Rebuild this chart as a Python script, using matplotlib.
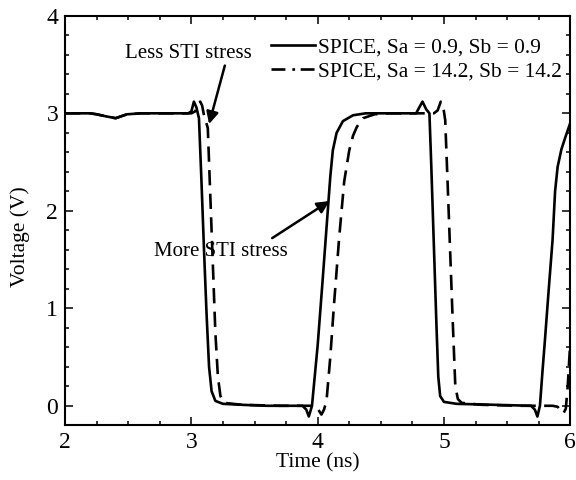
import matplotlib
matplotlib.use("Agg")
import matplotlib.pyplot as plt
from matplotlib.lines import Line2D
from matplotlib.ticker import MultipleLocator

plt.rcParams["font.family"] = ["Liberation Serif", "DejaVu Serif"]
plt.rcParams["lines.scale_dashes"] = False

# SPICE, Sa = 0.9, Sb = 0.9 (less STI stress)
t_low = [2.00, 2.20, 2.25, 2.32, 2.40, 2.49, 2.60, 2.70, 2.975, 3.00, 3.02, 3.04,
         3.06, 3.08, 3.10, 3.12, 3.14, 3.16, 3.19, 3.25, 3.40, 3.60, 3.88, 3.91,
         3.93, 3.955, 4.00, 4.04, 4.08, 4.10, 4.12, 4.15, 4.20, 4.28, 4.38, 4.60,
         4.78, 4.80, 4.83, 4.86, 4.885, 4.90, 4.92, 4.94, 4.955, 4.97, 5.00, 5.10,
         5.40, 5.69, 5.72, 5.74, 5.76, 5.78, 5.80, 5.83, 5.86, 5.88, 5.90, 5.93,
         5.96, 6.00]
v_low = [3.00, 3.00, 2.99, 2.97, 2.95, 2.99, 3.00, 3.00, 3.00, 3.02, 3.12, 3.06,
         2.95, 2.30, 1.60, 0.95, 0.40, 0.15, 0.05, 0.02, 0.01, 0.00, 0.00, -0.04,
         -0.11, 0.00, 0.62, 1.30, 2.00, 2.35, 2.62, 2.80, 2.92, 2.98, 3.00, 3.00,
         3.00, 3.05, 3.12, 3.04, 3.00, 2.45, 1.65, 0.85, 0.30, 0.10, 0.04, 0.02,
         0.01, 0.00, -0.04, -0.11, 0.00, 0.35, 0.68, 1.20, 1.70, 2.20, 2.45, 2.63,
         2.75, 2.90]

# SPICE, Sa = 14.2, Sb = 14.2 (more STI stress)
t_high = [2.00, 2.20, 2.25, 2.32, 2.40, 2.49, 2.60, 2.70, 3.00, 3.03, 3.055, 3.07,
          3.085, 3.10, 3.13, 3.16, 3.19, 3.21, 3.23, 3.26, 3.40, 3.70, 3.95, 3.98,
          4.01, 4.03, 4.05, 4.07, 4.10, 4.13, 4.17, 4.21, 4.25, 4.28, 4.31, 4.36,
          4.45, 4.55, 4.92, 4.95, 4.975, 4.995, 5.01, 5.03, 5.05, 5.07, 5.09, 5.11,
          5.14, 5.30, 5.60, 5.86, 5.90, 5.92, 5.945, 5.965, 5.98, 6.00]
v_high = [3.00, 3.00, 2.99, 2.97, 2.95, 2.99, 3.00, 3.00, 3.00, 3.02, 3.10, 3.12,
          3.08, 2.98, 2.85, 1.80, 0.75, 0.30, 0.10, 0.03, 0.01, 0.00, 0.00, 0.00,
          -0.05, -0.09, -0.04, 0.05, 0.50, 1.05, 1.72, 2.30, 2.62, 2.77, 2.86, 2.95,
          2.99, 3.00, 3.00, 3.03, 3.12, 3.06, 2.93, 2.25, 1.55, 0.85, 0.20, 0.07,
          0.03, 0.01, 0.00, 0.00, -0.01, -0.04, -0.08, -0.03, 0.20, 0.65]

labels = ["SPICE, Sa = 0.9, Sb = 0.9", "SPICE, Sa = 14.2, Sb = 14.2"]

fig = plt.figure(figsize=(5.76, 4.8), dpi=100)
ax = fig.add_axes([0.113, 0.114, 0.877, 0.853])

ax.plot(t_low, v_low, color="black", lw=1.9)
ax.plot(t_high, v_high, color="black", lw=1.9, dashes=(11, 6))

ax.set_xlim(2, 6)
ax.set_ylim(-0.2, 4)
ax.set_xticks([2, 3, 4, 5, 6])
ax.set_yticks([0, 1, 2, 3, 4])
ax.xaxis.set_minor_locator(MultipleLocator(0.25))
ax.yaxis.set_minor_locator(MultipleLocator(0.2))
ax.tick_params(which="both", direction="in", top=True, right=True, width=1.1)
ax.tick_params(which="major", length=5.5, labelsize=17, pad=5)
ax.tick_params(which="minor", length=3)
for s in ax.spines.values():
    s.set_linewidth(1.5)

ax.set_xlabel("Time (ns)", fontsize=15.5, labelpad=0)
ax.set_ylabel("Voltage (V)", fontsize=15.5)
ax.yaxis.set_label_coords(-0.07, 0.46)

# legend shows the dash-dot pattern of the second curve
handles = [Line2D([], [], color="black", lw=1.9),
           Line2D([], [], color="black", lw=1.9, dashes=(10, 5, 2, 4))]
ax.legend(handles, labels, loc="upper left", bbox_to_anchor=(0.407, 0.946),
          frameon=False, fontsize=15.4, handlelength=2.05, handletextpad=0.15,
          labelspacing=0.15, borderpad=0, borderaxespad=0)

ax.annotate("", xy=(3.14, 2.89), xytext=(3.265, 3.49),
            arrowprops=dict(arrowstyle="-|>", color="black", lw=1.8,
                            mutation_scale=18, shrinkA=0, shrinkB=0))
ax.text(2.974, 3.61, "Less STI stress", fontsize=15, ha="center", va="center")

ax.annotate("", xy=(4.093, 2.10), xytext=(3.64, 1.72),
            arrowprops=dict(arrowstyle="-|>", color="black", lw=1.8,
                            mutation_scale=18, shrinkA=0, shrinkB=0))
ax.text(3.235, 1.585, "More STI stress", fontsize=15, ha="center", va="center")

fig.savefig("out.png", dpi=100)
